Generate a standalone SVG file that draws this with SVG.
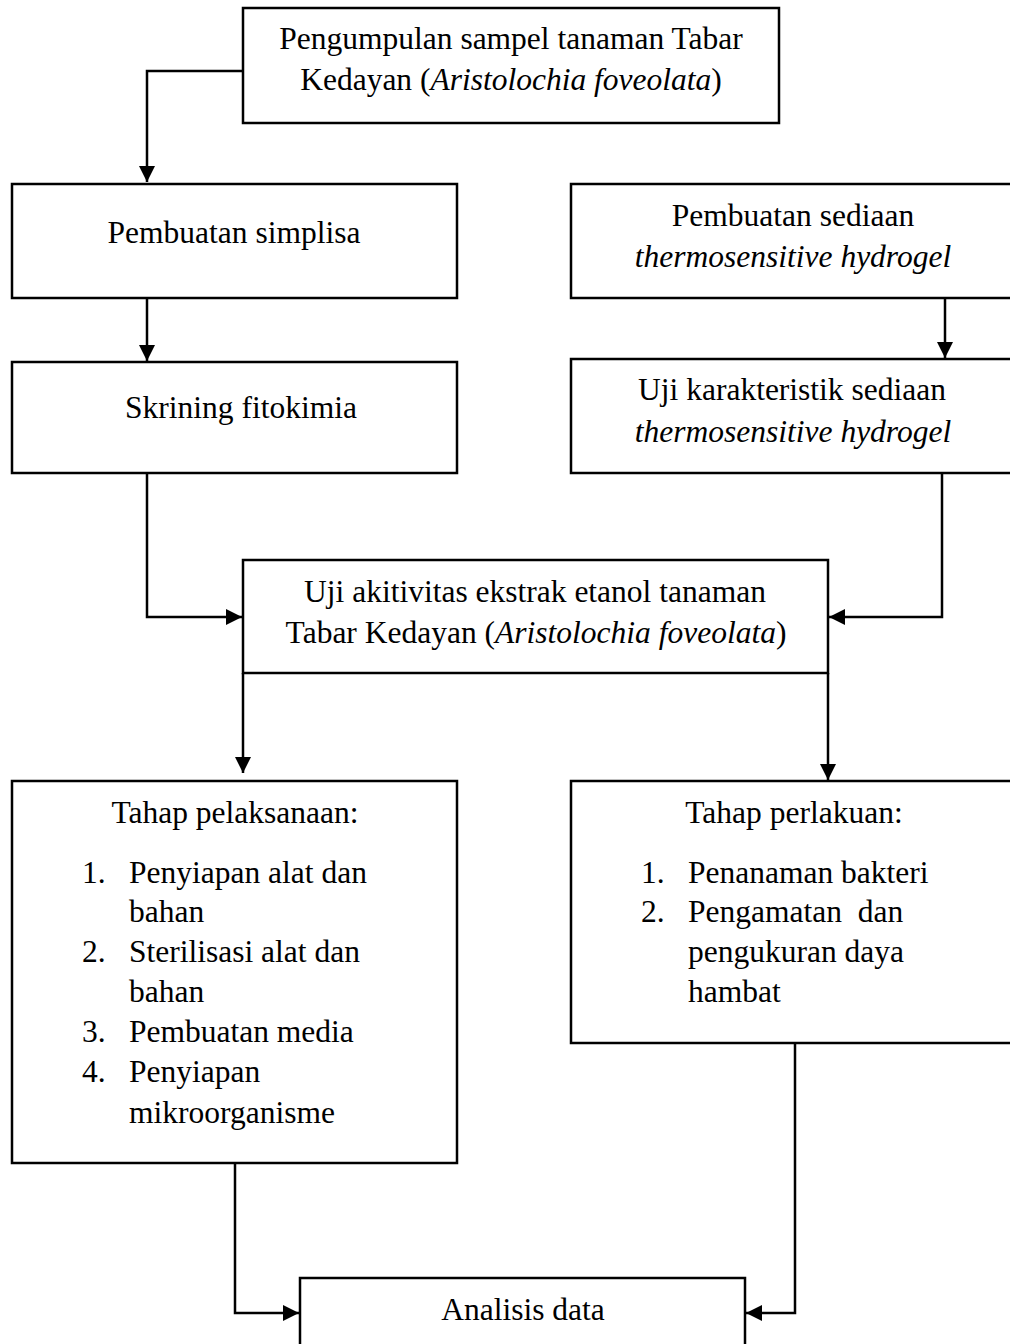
<svg xmlns="http://www.w3.org/2000/svg" width="1010" height="1344" viewBox="0 0 1010 1344">
<style>
.box{fill:#fff;stroke:#000;stroke-width:2.5}
.t{font-family:"Liberation Serif","Times New Roman",serif;font-size:31.5px;fill:#000}
.c{text-anchor:middle}
.i{font-style:italic}
.con{fill:none;stroke:#000;stroke-width:2.5}
</style>
<defs>
<marker id="ah" markerUnits="userSpaceOnUse" markerWidth="16" markerHeight="16" refX="16" refY="8" orient="auto">
<path d="M0,0 L16,8 L0,16 z" fill="#000"/>
</marker>
</defs>
<rect width="1010" height="1344" fill="#fff"/>
<g id="connectors">
<path class="con" d="M243,71 H147 V182" marker-end="url(#ah)"/>
<path class="con" d="M147,298 V361" marker-end="url(#ah)"/>
<path class="con" d="M945,298 V358" marker-end="url(#ah)"/>
<path class="con" d="M147,473 V617 H242" marker-end="url(#ah)"/>
<path class="con" d="M942,473 V617 H829" marker-end="url(#ah)"/>
<path class="con" d="M243,673 V773" marker-end="url(#ah)"/>
<path class="con" d="M828,673 V780" marker-end="url(#ah)"/>
<path class="con" d="M235,1163 V1313 H299" marker-end="url(#ah)"/>
<path class="con" d="M795,1043 V1313 H746" marker-end="url(#ah)"/>
</g>
<g id="n1">
<rect class="box" x="243" y="8" width="536" height="115"/>
<text class="t c" x="511" y="49">Pengumpulan sampel tanaman Tabar</text>
<text class="t c" x="511" y="90">Kedayan (<tspan class="i">Aristolochia foveolata</tspan>)</text>
</g>
<g id="n2">
<rect class="box" x="12" y="184" width="445" height="114"/>
<text class="t c" x="234" y="243">Pembuatan simplisa</text>
</g>
<g id="n3">
<rect class="box" x="571" y="184" width="460" height="114"/>
<text class="t c" x="793" y="226">Pembuatan sediaan</text>
<text class="t c i" x="793" y="267">thermosensitive hydrogel</text>
</g>
<g id="n4">
<rect class="box" x="12" y="362" width="445" height="111"/>
<text class="t c" x="241" y="418">Skrining fitokimia</text>
</g>
<g id="n5">
<rect class="box" x="571" y="359" width="460" height="114"/>
<text class="t c" x="792" y="400">Uji karakteristik sediaan</text>
<text class="t c i" x="793" y="442">thermosensitive hydrogel</text>
</g>
<g id="n6">
<rect class="box" x="243" y="560" width="585" height="113"/>
<text class="t c" x="535" y="602">Uji akitivitas ekstrak etanol tanaman</text>
<text class="t c" x="536" y="643">Tabar Kedayan (<tspan class="i">Aristolochia foveolata</tspan>)</text>
</g>
<g id="n7">
<rect class="box" x="12" y="781" width="445" height="382"/>
<text class="t c" x="235" y="823">Tahap pelaksanaan:</text>
<text class="t" x="82" y="883">1.</text><text class="t" x="129" y="883">Penyiapan alat dan</text>
<text class="t" x="129" y="922">bahan</text>
<text class="t" x="82" y="962">2.</text><text class="t" x="129" y="962">Sterilisasi alat dan</text>
<text class="t" x="129" y="1002">bahan</text>
<text class="t" x="82" y="1042">3.</text><text class="t" x="129" y="1042">Pembuatan media</text>
<text class="t" x="82" y="1082">4.</text><text class="t" x="129" y="1082">Penyiapan</text>
<text class="t" x="129" y="1123">mikroorganisme</text>
</g>
<g id="n8">
<rect class="box" x="571" y="781" width="460" height="262"/>
<text class="t c" x="794" y="823">Tahap perlakuan:</text>
<text class="t" x="641" y="883">1.</text><text class="t" x="688" y="883">Penanaman bakteri</text>
<text class="t" x="641" y="922">2.</text><text class="t" x="688" y="922" xml:space="preserve">Pengamatan  dan</text>
<text class="t" x="688" y="962">pengukuran daya</text>
<text class="t" x="688" y="1002">hambat</text>
</g>
<g id="n9">
<rect class="box" x="300" y="1278" width="445" height="90"/>
<text class="t c" x="523" y="1320">Analisis data</text>
</g>
</svg>
